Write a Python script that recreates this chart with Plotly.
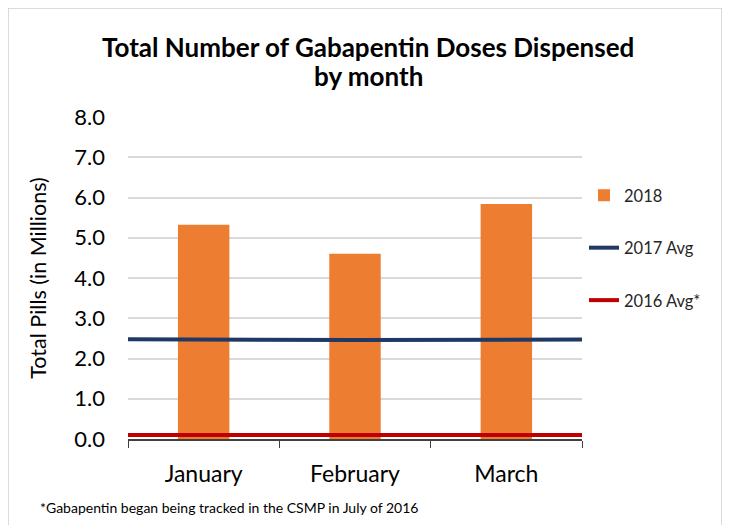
import plotly.graph_objects as go

months = ["January", "February", "March"]
doses_2018 = [5.32, 4.6, 5.84]
avg_2017 = [2.48, 2.46, 2.47]
avg_2016 = [0.1, 0.1, 0.1]
y_ticks = [0, 1, 2, 3, 4, 5, 6, 7, 8]

W, H = 730, 525
OFF = 8  # page offset of the figure
# plot area in page coordinates
L, R, T, B = 128, 582, 117, 439
pw, ph = R - L, B - T

def px(x):
    return (x - L) / pw

def py(y):
    return (B - y) / ph

FONT = "Lato"

fig = go.Figure()
fig.add_trace(go.Bar(
    x=months, y=doses_2018, name="2018",
    marker=dict(color="#ED7D31", line=dict(width=0)),
    legendgroup="a",
))
fig.add_trace(go.Scatter(
    x=months, y=avg_2017, name="2017 Avg", mode="lines",
    line=dict(color="#203864", width=4), xaxis="x2", legendgroup="b",
))
fig.add_trace(go.Scatter(
    x=months, y=avg_2016, name="2016 Avg*", mode="lines",
    line=dict(color="#C00000", width=4), xaxis="x2", legendgroup="c",
))

fig.update_layout(
    width=W, height=H,
    margin=dict(l=L - OFF, r=W - (R - OFF), t=T - OFF, b=H - (B - OFF), pad=0),
    paper_bgcolor="white", plot_bgcolor="white",
    font=dict(family=FONT, color="#000000"),
    bargap=0.66,
    showlegend=True,
    legend=dict(
        x=px(584), xanchor="left", y=py(178), yanchor="top",
        font=dict(size=16.5, family=FONT, color="#262626"),
        traceorder="grouped", tracegroupgap=28,
        bgcolor="rgba(0,0,0,0)", itemwidth=30,
    ),
    xaxis=dict(
        type="category", tickson="boundaries", ticks="outside", ticklen=7,
        tickcolor="#404040", showline=True, linecolor="#404040", linewidth=1.5,
        tickfont=dict(size=23, family=FONT, color="#000000"),
        ticklabelstandoff=14,
        showgrid=False, zeroline=False,
    ),
    xaxis2=dict(
        type="category", overlaying="x", range=[0, 2], visible=False,
        showgrid=False, zeroline=False,
    ),
    yaxis=dict(
        range=[0, 8], tickvals=y_ticks, tickformat=".1f",
        tickfont=dict(size=22, family=FONT, color="#000000"),
        showgrid=True, gridcolor="#D9D9D9", gridwidth=1.5,
        zeroline=False, showline=False, ticks="", ticklabelstandoff=22,
        title=dict(text="Total Pills (in Millions)", font=dict(size=21.5, family=FONT, color="#000000"), standoff=21),
    ),
    shapes=[dict(
        type="rect", xref="paper", yref="paper",
        x0=px(8), x1=px(722), y0=py(545), y1=py(8),
        line=dict(color="#D0D0D0", width=1.5), fillcolor="rgba(0,0,0,0)", layer="below",
    )],
    annotations=[
        dict(text="<b>Total Number of Gabapentin Doses Dispensed</b>",
             xref="paper", yref="paper", x=px(368), y=py(47), xanchor="center", yanchor="middle",
             showarrow=False, font=dict(size=26, family=FONT, color="#000000")),
        dict(text="<b>by month</b>",
             xref="paper", yref="paper", x=px(368), y=py(76), xanchor="center", yanchor="middle",
             showarrow=False, font=dict(size=26, family=FONT, color="#000000")),
        dict(text="*Gabapentin began being tracked in the CSMP in July of 2016",
             xref="paper", yref="paper", x=px(38), y=py(508), xanchor="left", yanchor="middle",
             showarrow=False, font=dict(size=14, family=FONT, color="#000000")),
    ],
)

fig.write_html("out.html")
